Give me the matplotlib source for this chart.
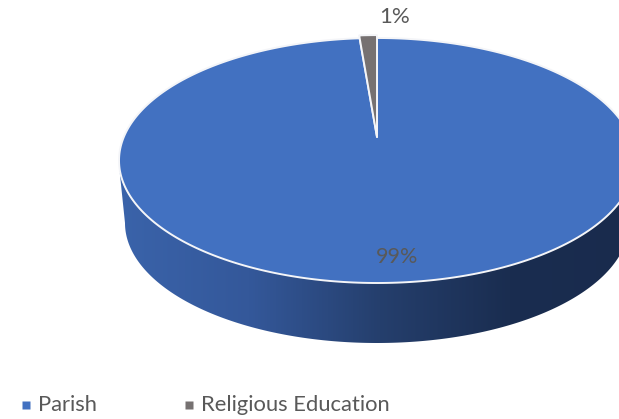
import numpy as np
import matplotlib
matplotlib.use("Agg")
import matplotlib.pyplot as plt
from matplotlib.colors import LinearSegmentedColormap
from matplotlib.patches import Polygon

categories = ["Parish", "Religious Education"]
values = [98.7, 1.3]
pct_labels = ["99%", "1%"]
colors = ["#4271C1", "#767171"]
explode = [1.0, 1.035]
side_colors = ["#3A63AA", "#34589A", "#253F6D", "#1A2D50", "#192B4D"]

plt.rcParams["font.family"] = ["Lato", "DejaVu Sans"]
text_color = "#595959"

fig = plt.figure(figsize=(6.19, 4.19), dpi=100)
ax = fig.add_axes([0, 0, 1, 1])
ax.set_xlim(0, 619)
ax.set_ylim(419, 0)
ax.axis("off")

# disc in perspective: the centre sits above the middle of the ellipse
cx, cy = 377, 137
persp = 0.1918
kx, ky = 253.2, 118.0


def project(theta, r):
    u = r * np.sin(theta)
    v = r * np.cos(theta)
    d = 1 + persp * v
    return cx + kx * u / d, cy - ky * v / d


# side wall, bottom ellipse is a bit narrower
t = np.linspace(np.pi / 2, 3 * np.pi / 2, 300)
top_x = 377 + 258.5 * np.sin(t)
top_y = 160.5 - 122.5 * np.cos(t)
bot_x = 377 + 252 * np.sin(t)
bot_y = 223 - 120 * np.cos(t)
side = np.vstack([np.column_stack([top_x, top_y]), np.column_stack([bot_x, bot_y])[::-1]])
patch = Polygon(side, closed=True, fc="none", ec="none")
ax.add_patch(patch)
cmap = LinearSegmentedColormap.from_list("side", side_colors)
img = ax.imshow(np.linspace(0, 1, 256)[None, :], cmap=cmap, aspect="auto",
                extent=(119, 640, 345, 160), zorder=1)
img.set_clip_path(patch)
ax.set_xlim(0, 619)
ax.set_ylim(419, 0)

# slices, clockwise from the top
start = 0.0
total = sum(values)
for val, col, r in zip(values, colors, explode):
    end = start + 2 * np.pi * val / total
    th = np.linspace(start, end, 400)
    xs, ys = project(th, r)
    xs = np.concatenate([[cx], xs])
    ys = np.concatenate([[cy], ys])
    ax.fill(xs, ys, fc=col, ec="#F4F5F8", lw=1.4, zorder=2, joinstyle="round")
    start = end

# labels
ax.text(397, 257, pct_labels[0], color=text_color, fontsize=15.5, ha="center", va="center", zorder=3)
ax.text(395, 17, pct_labels[1], color=text_color, fontsize=16, ha="center", va="center", zorder=3)

# legend
legend_x = [26, 189]
for x0, name, col in zip(legend_x, categories, colors):
    ax.plot([x0], [404.5], marker="s", ms=5.8, color=col, mec="none", zorder=3)
    ax.text(x0 + 12, 404.5, name, color=text_color, fontsize=15.8, ha="left", va="center")

fig.savefig("out.png", dpi=100)
